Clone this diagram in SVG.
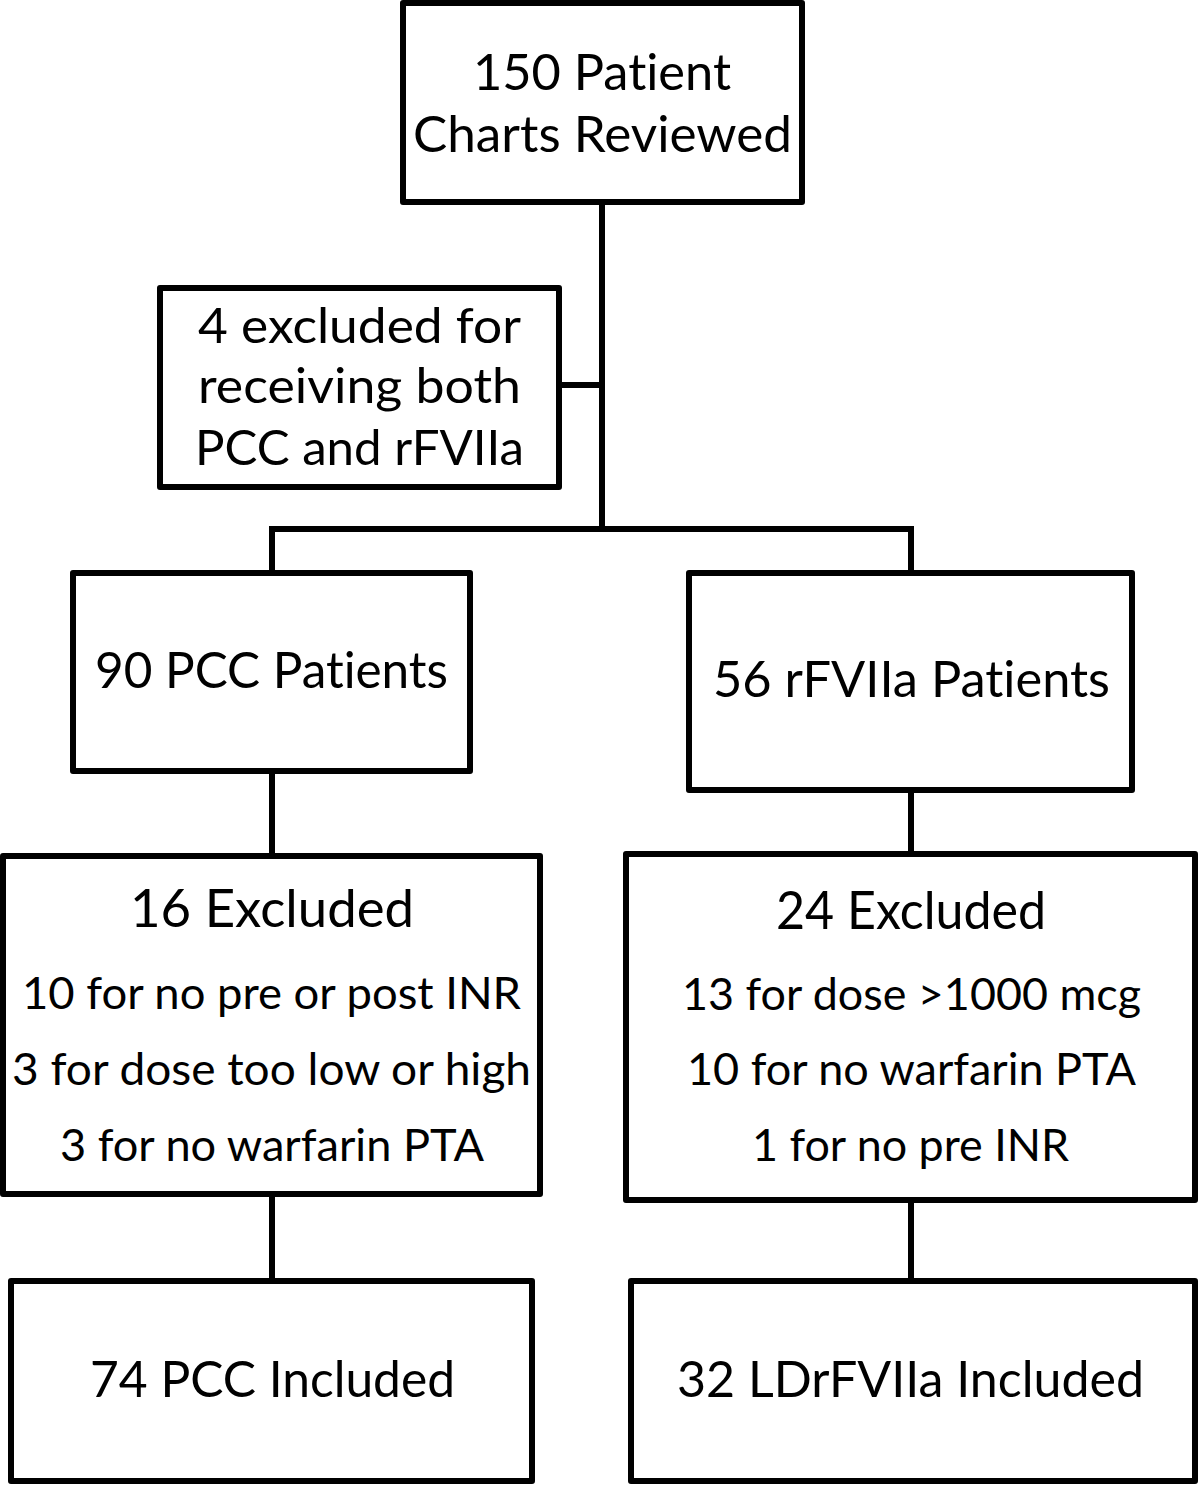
<svg xmlns="http://www.w3.org/2000/svg" width="1200" height="1485" viewBox="0 0 1200 1485">
<style>
.box{fill:#fff;stroke:#000;stroke-width:6;stroke-linejoin:round}
.ln{fill:none;stroke:#000;stroke-width:6}
text{font-family:Lato,"Open Sans","Liberation Sans",sans-serif;fill:#000;text-anchor:middle;font-variant-ligatures:none;font-feature-settings:"liga" 0,"dlig" 0}
.m{font-size:50px}
.m2{font-size:49px}
.t{font-size:52px}
.s{font-size:45px}
</style>
<rect width="1200" height="1485" fill="#fff"/>
<g id="connectors">
<line class="ln" x1="602" y1="202" x2="602" y2="532"/>
<line class="ln" x1="559" y1="385" x2="602" y2="385"/>
<polyline class="ln" points="272,573 272,529 911,529 911,573"/>
<line class="ln" x1="272" y1="771" x2="272" y2="856"/>
<line class="ln" x1="911" y1="790" x2="911" y2="854"/>
<line class="ln" x1="272" y1="1194" x2="272" y2="1281"/>
<line class="ln" x1="911" y1="1200" x2="911" y2="1281"/>
</g>
<g id="n1">
<rect class="box" x="403" y="3" width="399" height="199"/>
<text class="m" x="602" y="90" textLength="258" lengthAdjust="spacingAndGlyphs">150 Patient</text>
<text class="m" x="602.5" y="152" textLength="379" lengthAdjust="spacingAndGlyphs">Charts Reviewed</text>
</g>
<g id="n2">
<rect class="box" x="160" y="288" width="399" height="199"/>
<text class="m2" x="359.5" y="343" textLength="323" lengthAdjust="spacingAndGlyphs">4 excluded for</text>
<text class="m2" x="359.5" y="403" textLength="323" lengthAdjust="spacingAndGlyphs">receiving both</text>
<text class="m2" x="359.5" y="465" textLength="329" lengthAdjust="spacingAndGlyphs">PCC and rFVIIa</text>
</g>
<g id="n3">
<rect class="box" x="73" y="573" width="397" height="198"/>
<text class="m" x="271.5" y="688" textLength="353" lengthAdjust="spacingAndGlyphs">90 PCC Patients</text>
</g>
<g id="n4">
<rect class="box" x="689" y="573" width="443" height="217"/>
<text class="m" x="911.5" y="697" textLength="397" lengthAdjust="spacingAndGlyphs">56 rFVIIa Patients</text>
</g>
<g id="n5">
<rect class="box" x="3" y="856" width="537" height="338"/>
<text class="t" x="272" y="927" textLength="284" lengthAdjust="spacingAndGlyphs">16 Excluded</text>
<text class="s" x="271.5" y="1009" textLength="499" lengthAdjust="spacingAndGlyphs">10 for no pre or post INR</text>
<text class="s" x="271.5" y="1085" textLength="519" lengthAdjust="spacingAndGlyphs">3 for dose too low or high</text>
<text class="s" x="272" y="1161" textLength="424" lengthAdjust="spacingAndGlyphs">3 for no warfarin PTA</text>
</g>
<g id="n6">
<rect class="box" x="626" y="854" width="569" height="346"/>
<text class="t" x="911" y="929" textLength="270" lengthAdjust="spacingAndGlyphs">24 Excluded</text>
<text class="s" x="911.5" y="1010" textLength="459" lengthAdjust="spacingAndGlyphs">13 for dose &gt;1000 mcg</text>
<text class="s" x="911.5" y="1085" textLength="449" lengthAdjust="spacingAndGlyphs">10 for no warfarin PTA</text>
<text class="s" x="910.5" y="1161" textLength="317" lengthAdjust="spacingAndGlyphs">1 for no pre INR</text>
</g>
<g id="n7">
<rect class="box" x="11" y="1281" width="521" height="200"/>
<text class="m" x="272.5" y="1397" textLength="365" lengthAdjust="spacingAndGlyphs">74 PCC Included</text>
</g>
<g id="n8">
<rect class="box" x="631" y="1281" width="564" height="200"/>
<text class="m" x="910.5" y="1397" textLength="467" lengthAdjust="spacingAndGlyphs">32 LDrFVIIa Included</text>
</g>
</svg>
